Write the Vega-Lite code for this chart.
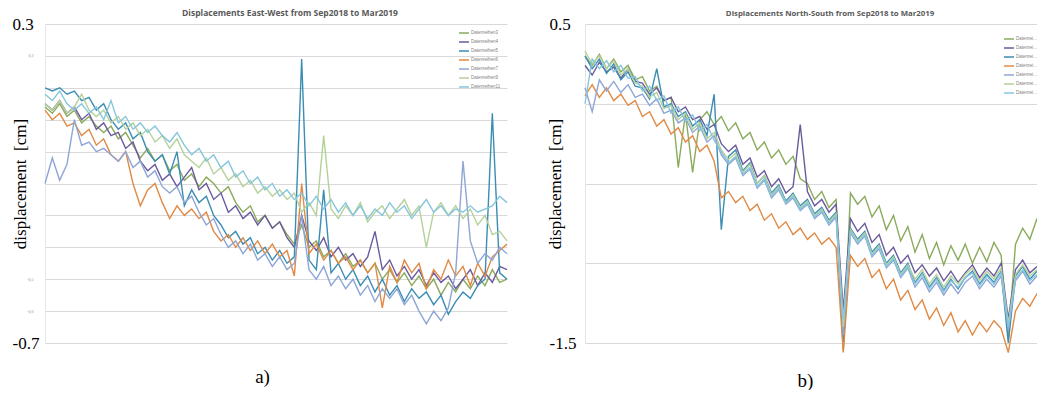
{
"$schema": "https://vega.github.io/schema/vega-lite/v6.json",
"padding": {"left": 11, "top": 8, "right": 0, "bottom": 0},
"background": "white",
"bounds": "flush",
"spacing": 78,
"config": {"view": {"stroke": null}, "font": "Liberation Serif"},
"resolve": {"legend": {"color": "independent"}, "scale": {"x": "independent", "y": "independent"}},
"datasets": {
"ew": [
{"t":0,"s":"3","v":0.04},{"t":1,"s":"3","v":0.02},{"t":2,"s":"3","v":0.05},{"t":3,"s":"3","v":0.01},{"t":4,"s":"3","v":0.03},{"t":5,"s":"3","v":-0.01},{"t":6,"s":"3","v":0.01},{"t":7,"s":"3","v":-0.02},{"t":8,"s":"3","v":-0.04},{"t":9,"s":"3","v":-0.02},
{"t":10,"s":"3","v":-0.06},{"t":11,"s":"3","v":-0.04},{"t":12,"s":"3","v":-0.08},{"t":13,"s":"3","v":-0.12},{"t":14,"s":"3","v":-0.09},{"t":15,"s":"3","v":-0.13},{"t":16,"s":"3","v":-0.11},{"t":17,"s":"3","v":-0.16},{"t":18,"s":"3","v":-0.14},{"t":19,"s":"3","v":-0.19},
{"t":20,"s":"3","v":-0.17},{"t":21,"s":"3","v":-0.21},{"t":22,"s":"3","v":-0.18},{"t":23,"s":"3","v":-0.2},{"t":24,"s":"3","v":-0.23},{"t":25,"s":"3","v":-0.21},{"t":26,"s":"3","v":-0.26},{"t":27,"s":"3","v":-0.29},{"t":28,"s":"3","v":-0.27},{"t":29,"s":"3","v":-0.32},
{"t":30,"s":"3","v":-0.3},{"t":31,"s":"3","v":-0.34},{"t":32,"s":"3","v":-0.32},{"t":33,"s":"3","v":-0.36},{"t":34,"s":"3","v":-0.39},{"t":35,"s":"3","v":-0.33},{"t":36,"s":"3","v":-0.4},{"t":37,"s":"3","v":-0.38},{"t":38,"s":"3","v":-0.43},{"t":39,"s":"3","v":-0.41},
{"t":40,"s":"3","v":-0.45},{"t":41,"s":"3","v":-0.42},{"t":42,"s":"3","v":-0.46},{"t":43,"s":"3","v":-0.44},{"t":44,"s":"3","v":-0.48},{"t":45,"s":"3","v":-0.45},{"t":46,"s":"3","v":-0.5},{"t":47,"s":"3","v":-0.47},{"t":48,"s":"3","v":-0.51},{"t":49,"s":"3","v":-0.48},
{"t":50,"s":"3","v":-0.52},{"t":51,"s":"3","v":-0.49},{"t":52,"s":"3","v":-0.53},{"t":53,"s":"3","v":-0.5},{"t":54,"s":"3","v":-0.55},{"t":55,"s":"3","v":-0.51},{"t":56,"s":"3","v":-0.54},{"t":57,"s":"3","v":-0.5},{"t":58,"s":"3","v":-0.53},{"t":59,"s":"3","v":-0.49},
{"t":60,"s":"3","v":-0.52},{"t":61,"s":"3","v":-0.47},{"t":62,"s":"3","v":-0.51},{"t":63,"s":"3","v":-0.5},

{"t":0,"s":"4","v":0.05},{"t":1,"s":"4","v":0.03},{"t":2,"s":"4","v":0.06},{"t":3,"s":"4","v":0.02},{"t":4,"s":"4","v":0.04},{"t":5,"s":"4","v":0.0},{"t":6,"s":"4","v":0.02},{"t":7,"s":"4","v":-0.03},{"t":8,"s":"4","v":-0.01},{"t":9,"s":"4","v":-0.05},
{"t":10,"s":"4","v":-0.04},{"t":11,"s":"4","v":-0.09},{"t":12,"s":"4","v":-0.07},{"t":13,"s":"4","v":-0.13},{"t":14,"s":"4","v":-0.16},{"t":15,"s":"4","v":-0.14},{"t":16,"s":"4","v":-0.19},{"t":17,"s":"4","v":-0.17},{"t":18,"s":"4","v":-0.21},{"t":19,"s":"4","v":-0.18},
{"t":20,"s":"4","v":-0.15},{"t":21,"s":"4","v":-0.22},{"t":22,"s":"4","v":-0.2},{"t":23,"s":"4","v":-0.25},{"t":24,"s":"4","v":-0.23},{"t":25,"s":"4","v":-0.29},{"t":26,"s":"4","v":-0.27},{"t":27,"s":"4","v":-0.31},{"t":28,"s":"4","v":-0.29},{"t":29,"s":"4","v":-0.33},
{"t":30,"s":"4","v":-0.3},{"t":31,"s":"4","v":-0.34},{"t":32,"s":"4","v":-0.32},{"t":33,"s":"4","v":-0.37},{"t":34,"s":"4","v":-0.4},{"t":35,"s":"4","v":-0.3},{"t":36,"s":"4","v":-0.38},{"t":37,"s":"4","v":-0.41},{"t":38,"s":"4","v":-0.37},{"t":39,"s":"4","v":-0.43},
{"t":40,"s":"4","v":-0.4},{"t":41,"s":"4","v":-0.44},{"t":42,"s":"4","v":-0.42},{"t":43,"s":"4","v":-0.46},{"t":44,"s":"4","v":-0.43},{"t":45,"s":"4","v":-0.35},{"t":46,"s":"4","v":-0.47},{"t":47,"s":"4","v":-0.44},{"t":48,"s":"4","v":-0.49},{"t":49,"s":"4","v":-0.46},
{"t":50,"s":"4","v":-0.5},{"t":51,"s":"4","v":-0.47},{"t":52,"s":"4","v":-0.52},{"t":53,"s":"4","v":-0.48},{"t":54,"s":"4","v":-0.51},{"t":55,"s":"4","v":-0.49},{"t":56,"s":"4","v":-0.53},{"t":57,"s":"4","v":-0.5},{"t":58,"s":"4","v":-0.47},{"t":59,"s":"4","v":-0.52},
{"t":60,"s":"4","v":-0.48},{"t":61,"s":"4","v":-0.51},{"t":62,"s":"4","v":-0.46},{"t":63,"s":"4","v":-0.47},

{"t":0,"s":"5","v":0.1},{"t":1,"s":"5","v":0.09},{"t":2,"s":"5","v":0.1},{"t":3,"s":"5","v":0.08},{"t":4,"s":"5","v":0.09},{"t":5,"s":"5","v":0.06},{"t":6,"s":"5","v":0.07},{"t":7,"s":"5","v":0.03},{"t":8,"s":"5","v":0.05},{"t":9,"s":"5","v":0.0},
{"t":10,"s":"5","v":-0.03},{"t":11,"s":"5","v":-0.01},{"t":12,"s":"5","v":-0.06},{"t":13,"s":"5","v":-0.04},{"t":14,"s":"5","v":-0.1},{"t":15,"s":"5","v":-0.13},{"t":16,"s":"5","v":-0.11},{"t":17,"s":"5","v":-0.17},{"t":18,"s":"5","v":-0.1},{"t":19,"s":"5","v":-0.27},
{"t":20,"s":"5","v":-0.22},{"t":21,"s":"5","v":-0.26},{"t":22,"s":"5","v":-0.24},{"t":23,"s":"5","v":-0.3},{"t":24,"s":"5","v":-0.33},{"t":25,"s":"5","v":-0.37},{"t":26,"s":"5","v":-0.35},{"t":27,"s":"5","v":-0.39},{"t":28,"s":"5","v":-0.37},{"t":29,"s":"5","v":-0.42},
{"t":30,"s":"5","v":-0.4},{"t":31,"s":"5","v":-0.44},{"t":32,"s":"5","v":-0.41},{"t":33,"s":"5","v":-0.45},{"t":34,"s":"5","v":-0.43},{"t":35,"s":"5","v":0.19},{"t":36,"s":"5","v":-0.44},{"t":37,"s":"5","v":-0.47},{"t":38,"s":"5","v":-0.22},{"t":39,"s":"5","v":-0.48},
{"t":40,"s":"5","v":-0.45},{"t":41,"s":"5","v":-0.5},{"t":42,"s":"5","v":-0.47},{"t":43,"s":"5","v":-0.52},{"t":44,"s":"5","v":-0.49},{"t":45,"s":"5","v":-0.54},{"t":46,"s":"5","v":-0.5},{"t":47,"s":"5","v":-0.55},{"t":48,"s":"5","v":-0.52},{"t":49,"s":"5","v":-0.57},
{"t":50,"s":"5","v":-0.53},{"t":51,"s":"5","v":-0.56},{"t":52,"s":"5","v":-0.54},{"t":53,"s":"5","v":-0.58},{"t":54,"s":"5","v":-0.55},{"t":55,"s":"5","v":-0.61},{"t":56,"s":"5","v":-0.57},{"t":57,"s":"5","v":-0.54},{"t":58,"s":"5","v":-0.56},{"t":59,"s":"5","v":-0.52},
{"t":60,"s":"5","v":-0.5},{"t":61,"s":"5","v":0.02},{"t":62,"s":"5","v":-0.48},{"t":63,"s":"5","v":-0.5},

{"t":0,"s":"6","v":0.03},{"t":1,"s":"6","v":0.0},{"t":2,"s":"6","v":0.02},{"t":3,"s":"6","v":-0.02},{"t":4,"s":"6","v":-0.01},{"t":5,"s":"6","v":-0.05},{"t":6,"s":"6","v":-0.03},{"t":7,"s":"6","v":-0.08},{"t":8,"s":"6","v":-0.06},{"t":9,"s":"6","v":-0.11},
{"t":10,"s":"6","v":-0.13},{"t":11,"s":"6","v":-0.1},{"t":12,"s":"6","v":-0.2},{"t":13,"s":"6","v":-0.27},{"t":14,"s":"6","v":-0.22},{"t":15,"s":"6","v":-0.2},{"t":16,"s":"6","v":-0.26},{"t":17,"s":"6","v":-0.31},{"t":18,"s":"6","v":-0.27},{"t":19,"s":"6","v":-0.3},
{"t":20,"s":"6","v":-0.28},{"t":21,"s":"6","v":-0.31},{"t":22,"s":"6","v":-0.29},{"t":23,"s":"6","v":-0.35},{"t":24,"s":"6","v":-0.38},{"t":25,"s":"6","v":-0.36},{"t":26,"s":"6","v":-0.4},{"t":27,"s":"6","v":-0.37},{"t":28,"s":"6","v":-0.41},{"t":29,"s":"6","v":-0.38},
{"t":30,"s":"6","v":-0.42},{"t":31,"s":"6","v":-0.39},{"t":32,"s":"6","v":-0.43},{"t":33,"s":"6","v":-0.41},{"t":34,"s":"6","v":-0.49},{"t":35,"s":"6","v":-0.2},{"t":36,"s":"6","v":-0.42},{"t":37,"s":"6","v":-0.39},{"t":38,"s":"6","v":-0.44},{"t":39,"s":"6","v":-0.41},
{"t":40,"s":"6","v":-0.45},{"t":41,"s":"6","v":-0.43},{"t":42,"s":"6","v":-0.47},{"t":43,"s":"6","v":-0.44},{"t":44,"s":"6","v":-0.48},{"t":45,"s":"6","v":-0.45},{"t":46,"s":"6","v":-0.59},{"t":47,"s":"6","v":-0.46},{"t":48,"s":"6","v":-0.51},{"t":49,"s":"6","v":-0.44},
{"t":50,"s":"6","v":-0.48},{"t":51,"s":"6","v":-0.45},{"t":52,"s":"6","v":-0.53},{"t":53,"s":"6","v":-0.47},{"t":54,"s":"6","v":-0.5},{"t":55,"s":"6","v":-0.44},{"t":56,"s":"6","v":-0.49},{"t":57,"s":"6","v":-0.46},{"t":58,"s":"6","v":-0.52},{"t":59,"s":"6","v":-0.45},
{"t":60,"s":"6","v":-0.49},{"t":61,"s":"6","v":-0.43},{"t":62,"s":"6","v":-0.41},{"t":63,"s":"6","v":-0.39},

{"t":0,"s":"7","v":-0.2},{"t":1,"s":"7","v":-0.12},{"t":2,"s":"7","v":-0.19},{"t":3,"s":"7","v":-0.14},{"t":4,"s":"7","v":0.0},{"t":5,"s":"7","v":-0.08},{"t":6,"s":"7","v":-0.07},{"t":7,"s":"7","v":-0.1},{"t":8,"s":"7","v":-0.09},{"t":9,"s":"7","v":-0.11},
{"t":10,"s":"7","v":-0.13},{"t":11,"s":"7","v":-0.1},{"t":12,"s":"7","v":-0.15},{"t":13,"s":"7","v":-0.13},{"t":14,"s":"7","v":-0.18},{"t":15,"s":"7","v":-0.16},{"t":16,"s":"7","v":-0.21},{"t":17,"s":"7","v":-0.23},{"t":18,"s":"7","v":-0.21},{"t":19,"s":"7","v":-0.26},
{"t":20,"s":"7","v":-0.24},{"t":21,"s":"7","v":-0.29},{"t":22,"s":"7","v":-0.33},{"t":23,"s":"7","v":-0.31},{"t":24,"s":"7","v":-0.36},{"t":25,"s":"7","v":-0.4},{"t":26,"s":"7","v":-0.38},{"t":27,"s":"7","v":-0.42},{"t":28,"s":"7","v":-0.39},{"t":29,"s":"7","v":-0.44},
{"t":30,"s":"7","v":-0.42},{"t":31,"s":"7","v":-0.46},{"t":32,"s":"7","v":-0.43},{"t":33,"s":"7","v":-0.47},{"t":34,"s":"7","v":-0.45},{"t":35,"s":"7","v":-0.3},{"t":36,"s":"7","v":-0.47},{"t":37,"s":"7","v":-0.5},{"t":38,"s":"7","v":-0.46},{"t":39,"s":"7","v":-0.52},
{"t":40,"s":"7","v":-0.49},{"t":41,"s":"7","v":-0.53},{"t":42,"s":"7","v":-0.5},{"t":43,"s":"7","v":-0.55},{"t":44,"s":"7","v":-0.52},{"t":45,"s":"7","v":-0.57},{"t":46,"s":"7","v":-0.53},{"t":47,"s":"7","v":-0.56},{"t":48,"s":"7","v":-0.53},{"t":49,"s":"7","v":-0.58},
{"t":50,"s":"7","v":-0.55},{"t":51,"s":"7","v":-0.6},{"t":52,"s":"7","v":-0.64},{"t":53,"s":"7","v":-0.6},{"t":54,"s":"7","v":-0.63},{"t":55,"s":"7","v":-0.59},{"t":56,"s":"7","v":-0.48},{"t":57,"s":"7","v":-0.13},{"t":58,"s":"7","v":-0.38},{"t":59,"s":"7","v":-0.45},
{"t":60,"s":"7","v":-0.42},{"t":61,"s":"7","v":-0.44},{"t":62,"s":"7","v":-0.4},{"t":63,"s":"7","v":-0.42},

{"t":0,"s":"9","v":0.05},{"t":1,"s":"9","v":0.03},{"t":2,"s":"9","v":0.06},{"t":3,"s":"9","v":0.02},{"t":4,"s":"9","v":0.04},{"t":5,"s":"9","v":0.08},{"t":6,"s":"9","v":0.03},{"t":7,"s":"9","v":0.01},{"t":8,"s":"9","v":0.03},{"t":9,"s":"9","v":-0.01},
{"t":10,"s":"9","v":0.01},{"t":11,"s":"9","v":-0.03},{"t":12,"s":"9","v":-0.01},{"t":13,"s":"9","v":-0.05},{"t":14,"s":"9","v":-0.03},{"t":15,"s":"9","v":-0.07},{"t":16,"s":"9","v":-0.05},{"t":17,"s":"9","v":-0.09},{"t":18,"s":"9","v":-0.06},{"t":19,"s":"9","v":-0.11},
{"t":20,"s":"9","v":-0.13},{"t":21,"s":"9","v":-0.15},{"t":22,"s":"9","v":-0.12},{"t":23,"s":"9","v":-0.17},{"t":24,"s":"9","v":-0.15},{"t":25,"s":"9","v":-0.19},{"t":26,"s":"9","v":-0.17},{"t":27,"s":"9","v":-0.21},{"t":28,"s":"9","v":-0.19},{"t":29,"s":"9","v":-0.23},
{"t":30,"s":"9","v":-0.21},{"t":31,"s":"9","v":-0.24},{"t":32,"s":"9","v":-0.22},{"t":33,"s":"9","v":-0.25},{"t":34,"s":"9","v":-0.23},{"t":35,"s":"9","v":-0.29},{"t":36,"s":"9","v":-0.26},{"t":37,"s":"9","v":-0.3},{"t":38,"s":"9","v":-0.05},{"t":39,"s":"9","v":-0.28},
{"t":40,"s":"9","v":-0.31},{"t":41,"s":"9","v":-0.27},{"t":42,"s":"9","v":-0.3},{"t":43,"s":"9","v":-0.26},{"t":44,"s":"9","v":-0.32},{"t":45,"s":"9","v":-0.29},{"t":46,"s":"9","v":-0.27},{"t":47,"s":"9","v":-0.31},{"t":48,"s":"9","v":-0.28},{"t":49,"s":"9","v":-0.25},
{"t":50,"s":"9","v":-0.3},{"t":51,"s":"9","v":-0.27},{"t":52,"s":"9","v":-0.4},{"t":53,"s":"9","v":-0.29},{"t":54,"s":"9","v":-0.26},{"t":55,"s":"9","v":-0.3},{"t":56,"s":"9","v":-0.27},{"t":57,"s":"9","v":-0.31},{"t":58,"s":"9","v":-0.28},{"t":59,"s":"9","v":-0.33},
{"t":60,"s":"9","v":-0.3},{"t":61,"s":"9","v":-0.36},{"t":62,"s":"9","v":-0.35},{"t":63,"s":"9","v":-0.38},

{"t":0,"s":"11","v":0.08},{"t":1,"s":"11","v":0.06},{"t":2,"s":"11","v":0.09},{"t":3,"s":"11","v":0.05},{"t":4,"s":"11","v":0.03},{"t":5,"s":"11","v":0.05},{"t":6,"s":"11","v":0.02},{"t":7,"s":"11","v":0.04},{"t":8,"s":"11","v":0.0},{"t":9,"s":"11","v":0.06},
{"t":10,"s":"11","v":-0.01},{"t":11,"s":"11","v":0.01},{"t":12,"s":"11","v":-0.03},{"t":13,"s":"11","v":-0.01},{"t":14,"s":"11","v":-0.04},{"t":15,"s":"11","v":-0.02},{"t":16,"s":"11","v":-0.05},{"t":17,"s":"11","v":-0.07},{"t":18,"s":"11","v":-0.04},{"t":19,"s":"11","v":-0.08},
{"t":20,"s":"11","v":-0.11},{"t":21,"s":"11","v":-0.09},{"t":22,"s":"11","v":-0.13},{"t":23,"s":"11","v":-0.11},{"t":24,"s":"11","v":-0.15},{"t":25,"s":"11","v":-0.13},{"t":26,"s":"11","v":-0.18},{"t":27,"s":"11","v":-0.16},{"t":28,"s":"11","v":-0.2},{"t":29,"s":"11","v":-0.18},
{"t":30,"s":"11","v":-0.22},{"t":31,"s":"11","v":-0.2},{"t":32,"s":"11","v":-0.24},{"t":33,"s":"11","v":-0.22},{"t":34,"s":"11","v":-0.25},{"t":35,"s":"11","v":-0.23},{"t":36,"s":"11","v":-0.27},{"t":37,"s":"11","v":-0.24},{"t":38,"s":"11","v":-0.28},{"t":39,"s":"11","v":-0.25},
{"t":40,"s":"11","v":-0.29},{"t":41,"s":"11","v":-0.26},{"t":42,"s":"11","v":-0.3},{"t":43,"s":"11","v":-0.27},{"t":44,"s":"11","v":-0.31},{"t":45,"s":"11","v":-0.28},{"t":46,"s":"11","v":-0.3},{"t":47,"s":"11","v":-0.26},{"t":48,"s":"11","v":-0.29},{"t":49,"s":"11","v":-0.27},
{"t":50,"s":"11","v":-0.31},{"t":51,"s":"11","v":-0.28},{"t":52,"s":"11","v":-0.25},{"t":53,"s":"11","v":-0.29},{"t":54,"s":"11","v":-0.27},{"t":55,"s":"11","v":-0.3},{"t":56,"s":"11","v":-0.28},{"t":57,"s":"11","v":-0.29},{"t":58,"s":"11","v":-0.27},{"t":59,"s":"11","v":-0.29},
{"t":60,"s":"11","v":-0.28},{"t":61,"s":"11","v":-0.27},{"t":62,"s":"11","v":-0.24},{"t":63,"s":"11","v":-0.26}
],
"ns": [
{"t":0,"s":"3","v":0.3},{"t":1,"s":"3","v":0.24},{"t":2,"s":"3","v":0.31},{"t":3,"s":"3","v":0.22},{"t":4,"s":"3","v":0.28},{"t":5,"s":"3","v":0.2},{"t":6,"s":"3","v":0.24},{"t":7,"s":"3","v":0.15},{"t":8,"s":"3","v":0.17},{"t":9,"s":"3","v":0.08},
{"t":10,"s":"3","v":0.11},{"t":11,"s":"3","v":0.02},{"t":12,"s":"3","v":0.04},{"t":13,"s":"3","v":-0.4},{"t":14,"s":"3","v":-0.06},{"t":15,"s":"3","v":-0.43},{"t":16,"s":"3","v":-0.1},{"t":17,"s":"3","v":-0.05},{"t":18,"s":"3","v":-0.13},{"t":19,"s":"3","v":-0.08},
{"t":20,"s":"3","v":-0.17},{"t":21,"s":"3","v":-0.12},{"t":22,"s":"3","v":-0.22},{"t":23,"s":"3","v":-0.18},{"t":24,"s":"3","v":-0.29},{"t":25,"s":"3","v":-0.24},{"t":26,"s":"3","v":-0.34},{"t":27,"s":"3","v":-0.29},{"t":28,"s":"3","v":-0.38},{"t":29,"s":"3","v":-0.33},
{"t":30,"s":"3","v":-0.47},{"t":31,"s":"3","v":-0.5},{"t":32,"s":"3","v":-0.6},{"t":33,"s":"3","v":-0.55},{"t":34,"s":"3","v":-0.65},{"t":35,"s":"3","v":-0.6},{"t":36,"s":"3","v":-1.55},{"t":37,"s":"3","v":-0.56},{"t":38,"s":"3","v":-0.63},{"t":39,"s":"3","v":-0.58},
{"t":40,"s":"3","v":-0.71},{"t":41,"s":"3","v":-0.64},{"t":42,"s":"3","v":-0.79},{"t":43,"s":"3","v":-0.7},{"t":44,"s":"3","v":-0.86},{"t":45,"s":"3","v":-0.77},{"t":46,"s":"3","v":-0.93},{"t":47,"s":"3","v":-0.82},{"t":48,"s":"3","v":-0.97},{"t":49,"s":"3","v":-0.87},
{"t":50,"s":"3","v":-1.01},{"t":51,"s":"3","v":-0.89},{"t":52,"s":"3","v":-0.98},{"t":53,"s":"3","v":-0.88},{"t":54,"s":"3","v":-1.0},{"t":55,"s":"3","v":-0.9},{"t":56,"s":"3","v":-0.99},{"t":57,"s":"3","v":-0.87},{"t":58,"s":"3","v":-0.95},{"t":59,"s":"3","v":-1.48},
{"t":60,"s":"3","v":-0.88},{"t":61,"s":"3","v":-0.78},{"t":62,"s":"3","v":-0.85},{"t":63,"s":"3","v":-0.72},

{"t":0,"s":"4","v":0.24},{"t":1,"s":"4","v":0.18},{"t":2,"s":"4","v":0.26},{"t":3,"s":"4","v":0.2},{"t":4,"s":"4","v":0.23},{"t":5,"s":"4","v":0.16},{"t":6,"s":"4","v":0.22},{"t":7,"s":"4","v":0.14},{"t":8,"s":"4","v":0.13},{"t":9,"s":"4","v":0.06},
{"t":10,"s":"4","v":0.1},{"t":11,"s":"4","v":0.02},{"t":12,"s":"4","v":0.04},{"t":13,"s":"4","v":-0.05},{"t":14,"s":"4","v":-0.02},{"t":15,"s":"4","v":-0.1},{"t":16,"s":"4","v":-0.08},{"t":17,"s":"4","v":-0.16},{"t":18,"s":"4","v":-0.13},{"t":19,"s":"4","v":-0.25},
{"t":20,"s":"4","v":-0.3},{"t":21,"s":"4","v":-0.26},{"t":22,"s":"4","v":-0.38},{"t":23,"s":"4","v":-0.34},{"t":24,"s":"4","v":-0.46},{"t":25,"s":"4","v":-0.42},{"t":26,"s":"4","v":-0.52},{"t":27,"s":"4","v":-0.47},{"t":28,"s":"4","v":-0.56},{"t":29,"s":"4","v":-0.52},
{"t":30,"s":"4","v":-0.13},{"t":31,"s":"4","v":-0.55},{"t":32,"s":"4","v":-0.64},{"t":33,"s":"4","v":-0.6},{"t":34,"s":"4","v":-0.68},{"t":35,"s":"4","v":-0.63},{"t":36,"s":"4","v":-1.3},{"t":37,"s":"4","v":-0.72},{"t":38,"s":"4","v":-0.8},{"t":39,"s":"4","v":-0.75},
{"t":40,"s":"4","v":-0.87},{"t":41,"s":"4","v":-0.82},{"t":42,"s":"4","v":-0.95},{"t":43,"s":"4","v":-0.9},{"t":44,"s":"4","v":-1.0},{"t":45,"s":"4","v":-0.95},{"t":46,"s":"4","v":-1.06},{"t":47,"s":"4","v":-1.01},{"t":48,"s":"4","v":-1.08},{"t":49,"s":"4","v":-1.03},
{"t":50,"s":"4","v":-1.11},{"t":51,"s":"4","v":-1.05},{"t":52,"s":"4","v":-1.12},{"t":53,"s":"4","v":-1.06},{"t":54,"s":"4","v":-1.01},{"t":55,"s":"4","v":-1.09},{"t":56,"s":"4","v":-1.03},{"t":57,"s":"4","v":-1.08},{"t":58,"s":"4","v":-1.0},{"t":59,"s":"4","v":-1.35},
{"t":60,"s":"4","v":-1.04},{"t":61,"s":"4","v":-0.98},{"t":62,"s":"4","v":-1.06},{"t":63,"s":"4","v":-1.02},

{"t":0,"s":"5","v":0.3},{"t":1,"s":"5","v":0.22},{"t":2,"s":"5","v":0.28},{"t":3,"s":"5","v":0.19},{"t":4,"s":"5","v":0.25},{"t":5,"s":"5","v":0.15},{"t":6,"s":"5","v":0.2},{"t":7,"s":"5","v":0.11},{"t":8,"s":"5","v":0.1},{"t":9,"s":"5","v":0.03},
{"t":10,"s":"5","v":0.22},{"t":11,"s":"5","v":-0.02},{"t":12,"s":"5","v":0.0},{"t":13,"s":"5","v":-0.08},{"t":14,"s":"5","v":-0.05},{"t":15,"s":"5","v":-0.14},{"t":16,"s":"5","v":-0.1},{"t":17,"s":"5","v":-0.2},{"t":18,"s":"5","v":0.06},{"t":19,"s":"5","v":-0.79},
{"t":20,"s":"5","v":-0.33},{"t":21,"s":"5","v":-0.29},{"t":22,"s":"5","v":-0.42},{"t":23,"s":"5","v":-0.37},{"t":24,"s":"5","v":-0.5},{"t":25,"s":"5","v":-0.45},{"t":26,"s":"5","v":-0.56},{"t":27,"s":"5","v":-0.51},{"t":28,"s":"5","v":-0.61},{"t":29,"s":"5","v":-0.56},
{"t":30,"s":"5","v":-0.64},{"t":31,"s":"5","v":-0.6},{"t":32,"s":"5","v":-0.69},{"t":33,"s":"5","v":-0.65},{"t":34,"s":"5","v":-0.73},{"t":35,"s":"5","v":-0.68},{"t":36,"s":"5","v":-1.52},{"t":37,"s":"5","v":-0.78},{"t":38,"s":"5","v":-0.85},{"t":39,"s":"5","v":-0.8},
{"t":40,"s":"5","v":-0.93},{"t":41,"s":"5","v":-0.88},{"t":42,"s":"5","v":-1.0},{"t":43,"s":"5","v":-0.95},{"t":44,"s":"5","v":-1.06},{"t":45,"s":"5","v":-1.0},{"t":46,"s":"5","v":-1.12},{"t":47,"s":"5","v":-1.06},{"t":48,"s":"5","v":-1.15},{"t":49,"s":"5","v":-1.09},
{"t":50,"s":"5","v":-1.17},{"t":51,"s":"5","v":-1.1},{"t":52,"s":"5","v":-1.16},{"t":53,"s":"5","v":-1.09},{"t":54,"s":"5","v":-1.05},{"t":55,"s":"5","v":-1.13},{"t":56,"s":"5","v":-1.07},{"t":57,"s":"5","v":-1.12},{"t":58,"s":"5","v":-1.05},{"t":59,"s":"5","v":-1.5},
{"t":60,"s":"5","v":-1.08},{"t":61,"s":"5","v":-1.02},{"t":62,"s":"5","v":-1.1},{"t":63,"s":"5","v":-1.05},

{"t":0,"s":"6","v":0.05},{"t":1,"s":"6","v":0.12},{"t":2,"s":"6","v":0.04},{"t":3,"s":"6","v":0.1},{"t":4,"s":"6","v":0.02},{"t":5,"s":"6","v":0.06},{"t":6,"s":"6","v":-0.01},{"t":7,"s":"6","v":0.02},{"t":8,"s":"6","v":-0.08},{"t":9,"s":"6","v":-0.05},
{"t":10,"s":"6","v":-0.14},{"t":11,"s":"6","v":-0.1},{"t":12,"s":"6","v":-0.19},{"t":13,"s":"6","v":-0.15},{"t":14,"s":"6","v":-0.24},{"t":15,"s":"6","v":-0.2},{"t":16,"s":"6","v":-0.3},{"t":17,"s":"6","v":-0.26},{"t":18,"s":"6","v":-0.36},{"t":19,"s":"6","v":-0.59},
{"t":20,"s":"6","v":-0.55},{"t":21,"s":"6","v":-0.62},{"t":22,"s":"6","v":-0.58},{"t":23,"s":"6","v":-0.67},{"t":24,"s":"6","v":-0.63},{"t":25,"s":"6","v":-0.73},{"t":26,"s":"6","v":-0.69},{"t":27,"s":"6","v":-0.78},{"t":28,"s":"6","v":-0.74},{"t":29,"s":"6","v":-0.82},
{"t":30,"s":"6","v":-0.78},{"t":31,"s":"6","v":-0.85},{"t":32,"s":"6","v":-0.81},{"t":33,"s":"6","v":-0.88},{"t":34,"s":"6","v":-0.84},{"t":35,"s":"6","v":-0.9},{"t":36,"s":"6","v":-1.56},{"t":37,"s":"6","v":-0.95},{"t":38,"s":"6","v":-1.02},{"t":39,"s":"6","v":-0.97},
{"t":40,"s":"6","v":-1.09},{"t":41,"s":"6","v":-1.04},{"t":42,"s":"6","v":-1.16},{"t":43,"s":"6","v":-1.1},{"t":44,"s":"6","v":-1.23},{"t":45,"s":"6","v":-1.17},{"t":46,"s":"6","v":-1.29},{"t":47,"s":"6","v":-1.23},{"t":48,"s":"6","v":-1.35},{"t":49,"s":"6","v":-1.28},
{"t":50,"s":"6","v":-1.39},{"t":51,"s":"6","v":-1.31},{"t":52,"s":"6","v":-1.43},{"t":53,"s":"6","v":-1.36},{"t":54,"s":"6","v":-1.45},{"t":55,"s":"6","v":-1.37},{"t":56,"s":"6","v":-1.43},{"t":57,"s":"6","v":-1.36},{"t":58,"s":"6","v":-1.41},{"t":59,"s":"6","v":-1.56},
{"t":60,"s":"6","v":-1.3},{"t":61,"s":"6","v":-1.22},{"t":62,"s":"6","v":-1.27},{"t":63,"s":"6","v":-1.19},

{"t":0,"s":"7","v":0.1},{"t":1,"s":"7","v":-0.05},{"t":2,"s":"7","v":0.15},{"t":3,"s":"7","v":0.08},{"t":4,"s":"7","v":0.14},{"t":5,"s":"7","v":0.07},{"t":6,"s":"7","v":0.12},{"t":7,"s":"7","v":0.04},{"t":8,"s":"7","v":0.06},{"t":9,"s":"7","v":-0.01},
{"t":10,"s":"7","v":0.03},{"t":11,"s":"7","v":-0.06},{"t":12,"s":"7","v":-0.04},{"t":13,"s":"7","v":-0.12},{"t":14,"s":"7","v":-0.09},{"t":15,"s":"7","v":-0.18},{"t":16,"s":"7","v":-0.14},{"t":17,"s":"7","v":-0.24},{"t":18,"s":"7","v":-0.2},{"t":19,"s":"7","v":-0.32},
{"t":20,"s":"7","v":-0.38},{"t":21,"s":"7","v":-0.34},{"t":22,"s":"7","v":-0.45},{"t":23,"s":"7","v":-0.41},{"t":24,"s":"7","v":-0.53},{"t":25,"s":"7","v":-0.48},{"t":26,"s":"7","v":-0.59},{"t":27,"s":"7","v":-0.54},{"t":28,"s":"7","v":-0.63},{"t":29,"s":"7","v":-0.59},
{"t":30,"s":"7","v":-0.67},{"t":31,"s":"7","v":-0.63},{"t":32,"s":"7","v":-0.72},{"t":33,"s":"7","v":-0.68},{"t":34,"s":"7","v":-0.76},{"t":35,"s":"7","v":-0.71},{"t":36,"s":"7","v":-1.45},{"t":37,"s":"7","v":-0.81},{"t":38,"s":"7","v":-0.88},{"t":39,"s":"7","v":-0.83},
{"t":40,"s":"7","v":-0.96},{"t":41,"s":"7","v":-0.91},{"t":42,"s":"7","v":-1.03},{"t":43,"s":"7","v":-0.98},{"t":44,"s":"7","v":-1.09},{"t":45,"s":"7","v":-1.03},{"t":46,"s":"7","v":-1.15},{"t":47,"s":"7","v":-1.09},{"t":48,"s":"7","v":-1.18},{"t":49,"s":"7","v":-1.12},
{"t":50,"s":"7","v":-1.2},{"t":51,"s":"7","v":-1.13},{"t":52,"s":"7","v":-1.19},{"t":53,"s":"7","v":-1.12},{"t":54,"s":"7","v":-1.08},{"t":55,"s":"7","v":-1.16},{"t":56,"s":"7","v":-1.1},{"t":57,"s":"7","v":-1.15},{"t":58,"s":"7","v":-1.08},{"t":59,"s":"7","v":-1.42},
{"t":60,"s":"7","v":-1.11},{"t":61,"s":"7","v":-1.05},{"t":62,"s":"7","v":-1.13},{"t":63,"s":"7","v":-1.08},

{"t":0,"s":"9","v":0.33},{"t":1,"s":"9","v":0.25},{"t":2,"s":"9","v":0.3},{"t":3,"s":"9","v":0.22},{"t":4,"s":"9","v":0.27},{"t":5,"s":"9","v":0.18},{"t":6,"s":"9","v":0.22},{"t":7,"s":"9","v":0.13},{"t":8,"s":"9","v":0.11},{"t":9,"s":"9","v":0.04},
{"t":10,"s":"9","v":0.07},{"t":11,"s":"9","v":-0.03},{"t":12,"s":"9","v":-0.01},{"t":13,"s":"9","v":-0.1},{"t":14,"s":"9","v":-0.06},{"t":15,"s":"9","v":-0.16},{"t":16,"s":"9","v":-0.12},{"t":17,"s":"9","v":-0.22},{"t":18,"s":"9","v":-0.18},{"t":19,"s":"9","v":-0.29},
{"t":20,"s":"9","v":-0.35},{"t":21,"s":"9","v":-0.31},{"t":22,"s":"9","v":-0.43},{"t":23,"s":"9","v":-0.38},{"t":24,"s":"9","v":-0.5},{"t":25,"s":"9","v":-0.45},{"t":26,"s":"9","v":-0.57},{"t":27,"s":"9","v":-0.52},{"t":28,"s":"9","v":-0.62},{"t":29,"s":"9","v":-0.57},
{"t":30,"s":"9","v":-0.65},{"t":31,"s":"9","v":-0.61},{"t":32,"s":"9","v":-0.7},{"t":33,"s":"9","v":-0.66},{"t":34,"s":"9","v":-0.74},{"t":35,"s":"9","v":-0.69},{"t":36,"s":"9","v":-1.4},{"t":37,"s":"9","v":-0.79},{"t":38,"s":"9","v":-0.86},{"t":39,"s":"9","v":-0.81},
{"t":40,"s":"9","v":-0.94},{"t":41,"s":"9","v":-0.89},{"t":42,"s":"9","v":-1.01},{"t":43,"s":"9","v":-0.96},{"t":44,"s":"9","v":-1.07},{"t":45,"s":"9","v":-1.01},{"t":46,"s":"9","v":-1.1},{"t":47,"s":"9","v":-1.04},{"t":48,"s":"9","v":-1.13},{"t":49,"s":"9","v":-1.07},
{"t":50,"s":"9","v":-1.15},{"t":51,"s":"9","v":-1.08},{"t":52,"s":"9","v":-1.13},{"t":53,"s":"9","v":-1.07},{"t":54,"s":"9","v":-1.03},{"t":55,"s":"9","v":-1.11},{"t":56,"s":"9","v":-1.05},{"t":57,"s":"9","v":-1.1},{"t":58,"s":"9","v":-1.03},{"t":59,"s":"9","v":-1.38},
{"t":60,"s":"9","v":-1.07},{"t":61,"s":"9","v":-1.01},{"t":62,"s":"9","v":-1.08},{"t":63,"s":"9","v":-1.04},

{"t":0,"s":"11","v":0.0},{"t":1,"s":"11","v":0.28},{"t":2,"s":"11","v":0.22},{"t":3,"s":"11","v":0.27},{"t":4,"s":"11","v":0.2},{"t":5,"s":"11","v":0.24},{"t":6,"s":"11","v":0.16},{"t":7,"s":"11","v":0.17},{"t":8,"s":"11","v":0.08},{"t":9,"s":"11","v":0.11},
{"t":10,"s":"11","v":0.02},{"t":11,"s":"11","v":0.05},{"t":12,"s":"11","v":-0.06},{"t":13,"s":"11","v":-0.02},{"t":14,"s":"11","v":-0.11},{"t":15,"s":"11","v":-0.07},{"t":16,"s":"11","v":-0.17},{"t":17,"s":"11","v":-0.13},{"t":18,"s":"11","v":-0.23},{"t":19,"s":"11","v":-0.3},
{"t":20,"s":"11","v":-0.37},{"t":21,"s":"11","v":-0.33},{"t":22,"s":"11","v":-0.44},{"t":23,"s":"11","v":-0.4},{"t":24,"s":"11","v":-0.52},{"t":25,"s":"11","v":-0.47},{"t":26,"s":"11","v":-0.58},{"t":27,"s":"11","v":-0.53},{"t":28,"s":"11","v":-0.62},{"t":29,"s":"11","v":-0.58},
{"t":30,"s":"11","v":-0.66},{"t":31,"s":"11","v":-0.62},{"t":32,"s":"11","v":-0.71},{"t":33,"s":"11","v":-0.67},{"t":34,"s":"11","v":-0.75},{"t":35,"s":"11","v":-0.7},{"t":36,"s":"11","v":-1.35},{"t":37,"s":"11","v":-0.8},{"t":38,"s":"11","v":-0.87},{"t":39,"s":"11","v":-0.82},
{"t":40,"s":"11","v":-0.95},{"t":41,"s":"11","v":-0.9},{"t":42,"s":"11","v":-1.02},{"t":43,"s":"11","v":-0.97},{"t":44,"s":"11","v":-1.08},{"t":45,"s":"11","v":-1.02},{"t":46,"s":"11","v":-1.13},{"t":47,"s":"11","v":-1.07},{"t":48,"s":"11","v":-1.16},{"t":49,"s":"11","v":-1.1},
{"t":50,"s":"11","v":-1.18},{"t":51,"s":"11","v":-1.11},{"t":52,"s":"11","v":-1.15},{"t":53,"s":"11","v":-1.09},{"t":54,"s":"11","v":-1.06},{"t":55,"s":"11","v":-1.14},{"t":56,"s":"11","v":-1.08},{"t":57,"s":"11","v":-1.13},{"t":58,"s":"11","v":-1.06},{"t":59,"s":"11","v":-1.4},
{"t":60,"s":"11","v":-1.1},{"t":61,"s":"11","v":-1.04},{"t":62,"s":"11","v":-1.11},{"t":63,"s":"11","v":-1.07}
]
},
"hconcat": [
{
"width": 462, "height": 319,
"title": {"text": "Displacements East-West from Sep2018 to Mar2019", "font": "Open Sans", "fontSize": 8.5, "fontWeight": "bold", "color": "#595959", "offset": -2, "dx": 14},
"data": {"name": "ew"},
"mark": {"type": "line", "strokeWidth": 1.4},
"encoding": {
"x": {"field": "t", "type": "quantitative", "scale": {"domain": [0, 63], "nice": false, "zero": false},
"axis": {"title": "a)", "labels": false, "ticks": false, "domain": false, "grid": false, "titleFont": "Liberation Serif", "titleFontSize": 19, "titleFontWeight": "normal", "titleColor": "#000000", "titlePadding": 24, "titleX": 217, "titleAlign": "center"}},
"y": {"field": "v", "type": "quantitative", "scale": {"domain": [-0.7, 0.3], "nice": false, "zero": false},
"axis": {"values": [-0.7, -0.6, -0.5, -0.4, -0.3, -0.2, -0.1, 0, 0.1, 0.2, 0.3], "grid": true, "gridColor": "#d9d9d9", "gridWidth": 1, "domain": true, "domainColor": "#e6e6e6", "ticks": false,
"labelExpr": "datum.value == 0.3 ? '0.3' : datum.value == -0.7 ? '-0.7' : (datum.value == 0.2 ? '0,2' : datum.value == -0.5 ? '-0,5' : datum.value == -0.6 ? '-0,6' : '')",
"labelFont": "Liberation Serif",
"labelFontSize": {"condition": {"test": "datum.value == 0.3 || datum.value == -0.7", "value": 17}, "value": 4},
"labelColor": {"condition": {"test": "datum.value == 0.3 || datum.value == -0.7", "value": "#000000"}, "value": "#8c8c8c"},
"labelAlign": {"condition": {"test": "datum.value == 0.3 || datum.value == -0.7", "value": "left"}, "value": "right"},
"labelPadding": {"condition": {"test": "datum.value == 0.3 || datum.value == -0.7", "value": 33}, "value": 12},
"labelOverlap": false, "labelBound": false, "labelFlush": false,
"title": "displacement\u00a0 [cm]", "titleFont": "Liberation Serif", "titleFontSize": 17, "titleFontWeight": "normal", "titleColor": "#000000", "titleX": -25, "titleY": 159.5, "titleAngle": 270, "titleAlign": "center", "titleBaseline": "middle"}},
"color": {"field": "s", "type": "nominal",
"scale": {"domain": ["3", "4", "5", "6", "7", "9", "11"], "range": ["#8aab5c", "#6b5a9e", "#3b8db3", "#e08a45", "#8ea6d6", "#b5d19a", "#86c6dc"]},
"legend": {"orient": "none", "legendX": 413, "legendY": 3, "title": null, "symbolType": "stroke", "symbolSize": 100, "symbolStrokeWidth": 1.5, "labelFont": "Liberation Sans", "labelFontSize": 4.5, "labelColor": "#7f7f7f", "labelOffset": 1, "rowPadding": -1.8, "padding": 0, "labelExpr": "'Datenreihen' + datum.label"}}
}
},
{
"width": 452, "height": 319,
"title": {"text": "Displacements North-South from Sep2018 to Mar2019", "font": "Open Sans", "fontSize": 7.8, "fontWeight": "bold", "color": "#595959", "offset": -3, "dx": 19},
"data": {"name": "ns"},
"mark": {"type": "line", "strokeWidth": 1.4},
"encoding": {
"x": {"field": "t", "type": "quantitative", "scale": {"domain": [0, 63], "nice": false, "zero": false},
"axis": {"title": "b)", "labels": false, "ticks": false, "domain": false, "grid": false, "titleFont": "Liberation Serif", "titleFontSize": 19, "titleFontWeight": "normal", "titleColor": "#000000", "titlePadding": 28, "titleX": 220, "titleAlign": "center"}},
"y": {"field": "v", "type": "quantitative", "scale": {"domain": [-1.5, 0.5], "nice": false, "zero": false},
"axis": {"values": [-1.5, -1, -0.5, 0, 0.5], "grid": true, "gridColor": "#d9d9d9", "gridWidth": 1, "domain": true, "domainColor": "#e6e6e6", "ticks": false,
"labelExpr": "datum.value == 0.5 ? '0.5' : datum.value == -1.5 ? '-1.5' : ''",
"labelFont": "Liberation Serif", "labelFontSize": 17, "labelColor": "#000000", "labelAlign": "left", "labelPadding": 36,
"labelOverlap": false, "labelBound": false, "labelFlush": false,
"title": "displacement\u00a0 [cm]", "titleFont": "Liberation Serif", "titleFontSize": 17, "titleFontWeight": "normal", "titleColor": "#000000", "titleX": -30, "titleY": 159.5, "titleAngle": 270, "titleAlign": "center", "titleBaseline": "middle"}},
"color": {"field": "s", "type": "nominal",
"scale": {"domain": ["3", "4", "5", "6", "7", "9", "11"], "range": ["#8aab5c", "#6b5a9e", "#3b8db3", "#e08a45", "#8ea6d6", "#b5d19a", "#86c6dc"]},
"legend": {"orient": "none", "legendX": 418, "legendY": 9, "title": null, "symbolType": "stroke", "symbolSize": 100, "symbolStrokeWidth": 1.5, "labelFont": "Liberation Sans", "labelFontSize": 4.5, "labelColor": "#7f7f7f", "labelOffset": 1, "rowPadding": -0.5, "padding": 0, "labelLimit": 22, "labelExpr": "'Datenreihen' + datum.label"}}
}
}
]
}
